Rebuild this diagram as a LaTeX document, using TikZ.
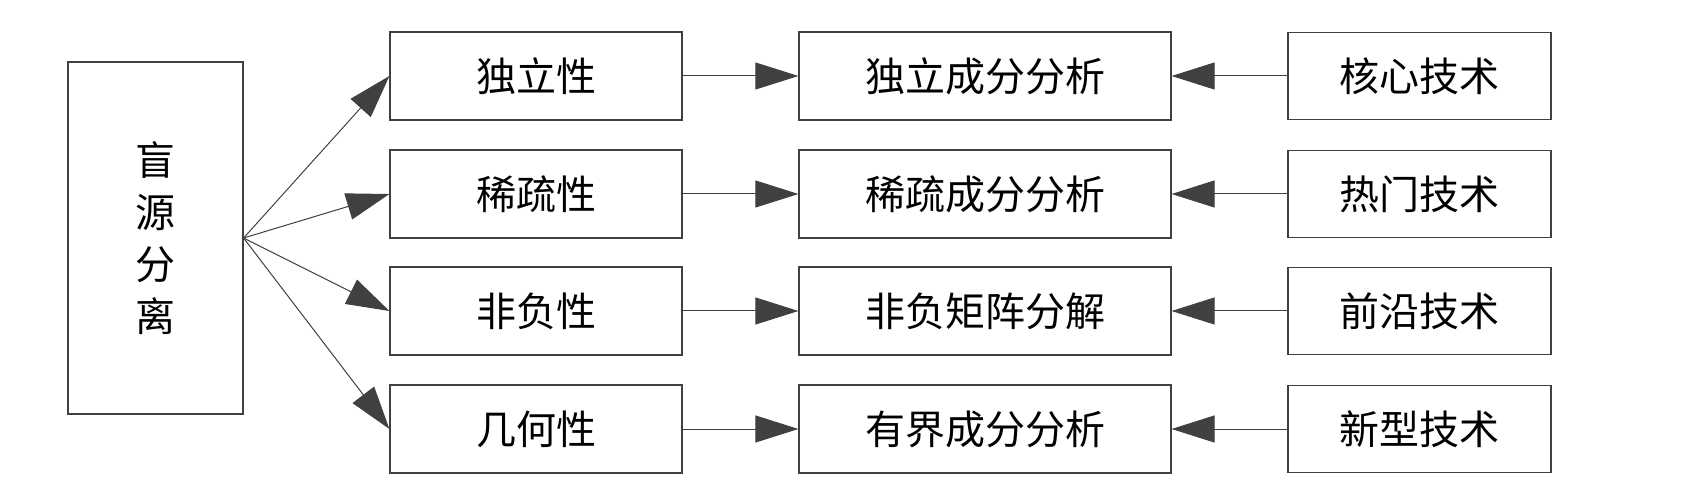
\documentclass[tikz,border=0pt]{standalone}
\usepackage{fontspec}
\newfontfamily\cjk{Noto Sans CJK SC}
\usetikzlibrary{arrows.meta}
\definecolor{linec}{HTML}{404040}
\begin{document}
\begin{tikzpicture}[x=1pt,y=-1pt,
  box/.style={draw=linec,line width=1.2pt,rectangle,inner sep=0pt,
    font=\cjk\fontsize{40}{52}\selectfont,text=black},
  conn/.style={draw=linec,line width=1pt,-{Triangle[length=43pt,width=27pt,fill=linec]}}]
\useasboundingbox (0,0) rectangle (1694,502);
\fill[white] (0,0) rectangle (1694,502);
\node[box,minimum width=175pt,minimum height=352pt,align=center] (L) at (155.5,238) {盲\\源\\分\\离};
\foreach \i/\y/\ta/\tb/\tc in {1/76/独立性/独立成分分析/核心技术,2/194/稀疏性/稀疏成分分析/热门技术,3/311/非负性/非负矩阵分解/前沿技术,4/429/几何性/有界成分分析/新型技术}{
  \node[box,minimum width=292pt,minimum height=88pt] (a\i) at (536,\y) {\ta};
  \node[box,minimum width=372pt,minimum height=88pt] (b\i) at (985,\y) {\tb};
  \node[box,minimum width=263pt,minimum height=87pt] (c\i) at (1419.5,\y) {\tc};
  \draw[conn] (L.east) -- (a\i.west);
  \draw[conn] (a\i.east) -- (b\i.west);
  \draw[conn] (c\i.west) -- (b\i.east);
}
\end{tikzpicture}
\end{document}
